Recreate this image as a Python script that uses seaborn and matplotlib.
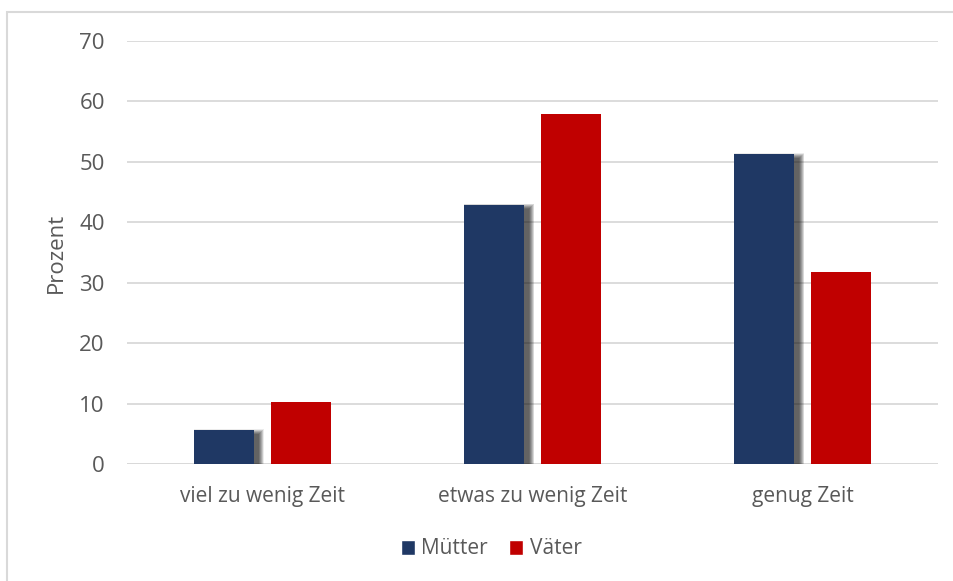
import matplotlib
matplotlib.use("Agg")
import matplotlib.pyplot as plt
from matplotlib.patches import Rectangle
import seaborn as sns
import pandas as pd

# Survey data: how much time parents feel they have for their children
categories = ["viel zu wenig Zeit", "etwas zu wenig Zeit", "genug Zeit"]
muetter = [5.6, 42.9, 51.3]
vaeter = [10.3, 57.9, 31.8]
series_names = ["Mütter", "Väter"]
y_ticks = [0, 10, 20, 30, 40, 50, 60, 70]

df = pd.DataFrame({
    "Kategorie": categories * 2,
    "Prozent": muetter + vaeter,
    "Gruppe": [series_names[0]] * 3 + [series_names[1]] * 3,
})

sns.set_theme(style="white")
plt.rcParams["font.family"] = ["Open Sans", "DejaVu Sans"]

text_color = "#595959"
grid_color = "#D9D9D9"
colors = {"Mütter": "#1F3864", "Väter": "#C00000"}

W, H = 954, 581
fig = plt.figure(figsize=(W / 100, H / 100), dpi=100)
ax = fig.add_axes([127 / W, 1 - 464 / H, (938 - 127) / W, (464 - 41) / H])

sns.barplot(data=df, x="Kategorie", y="Prozent", hue="Gruppe",
            palette=colors, saturation=1, width=0.57, gap=0.22, ax=ax,
            order=categories, hue_order=series_names, legend=True,
            edgecolor="none", zorder=3)

ax.set_ylim(0, 70)
ax.set_yticks(y_ticks)
ax.set_xlim(-0.5, 2.5)

# Soft drop shadow behind the dark bars (offset to the lower right)
px_x = 3.0 / (938 - 127)          # one pixel in data units (x)
px_y = 70.0 / (464 - 41)          # one pixel in data units (y)
for bar in ax.patches[:3]:
    x0, y0 = bar.get_x(), bar.get_y()
    w, h = bar.get_width(), bar.get_height()
    for k in range(0, 11):
        e = k * 0.5
        ax.add_patch(Rectangle(
            (x0 + (5 - e) * px_x, y0 - (3 + e) * px_y),
            w + 2 * e * px_x, h + (2 * e - 1) * px_y,
            facecolor="black", alpha=0.08, edgecolor="none", zorder=2))

# Grid and spines
ax.yaxis.grid(True, color=grid_color, linewidth=1.3, zorder=0)
ax.set_axisbelow(True)
for s in ax.spines.values():
    s.set_visible(False)
ax.axhline(0, color=grid_color, linewidth=1.3, zorder=1)

ax.tick_params(axis="y", length=0, labelsize=16, colors=text_color, pad=16)
ax.tick_params(axis="x", length=0, labelsize=15, colors=text_color, pad=16)
ax.set_xlabel("")
ax.set_ylabel("Prozent", fontsize=16, color=text_color, labelpad=9)

# Legend below the plot
ax.get_legend().remove()
handles = [Rectangle((0, 0), 1, 1, facecolor=colors[n]) for n in series_names]
fig.legend(handles, series_names, loc="center", bbox_to_anchor=(491 / W, 1 - 549 / H),
           ncol=2, frameon=False, fontsize=15, labelcolor=text_color,
           handlelength=0.7, handleheight=0.7, handletextpad=0.3, columnspacing=1.0)

# Light chart frame
fig.add_artist(Rectangle((7 / W, -0.05), 1.2, 1 - 12 / H + 0.05,
                         transform=fig.transFigure, fill=False,
                         edgecolor=grid_color, linewidth=1.5))

fig.savefig("out.png", dpi=100, facecolor="white")
